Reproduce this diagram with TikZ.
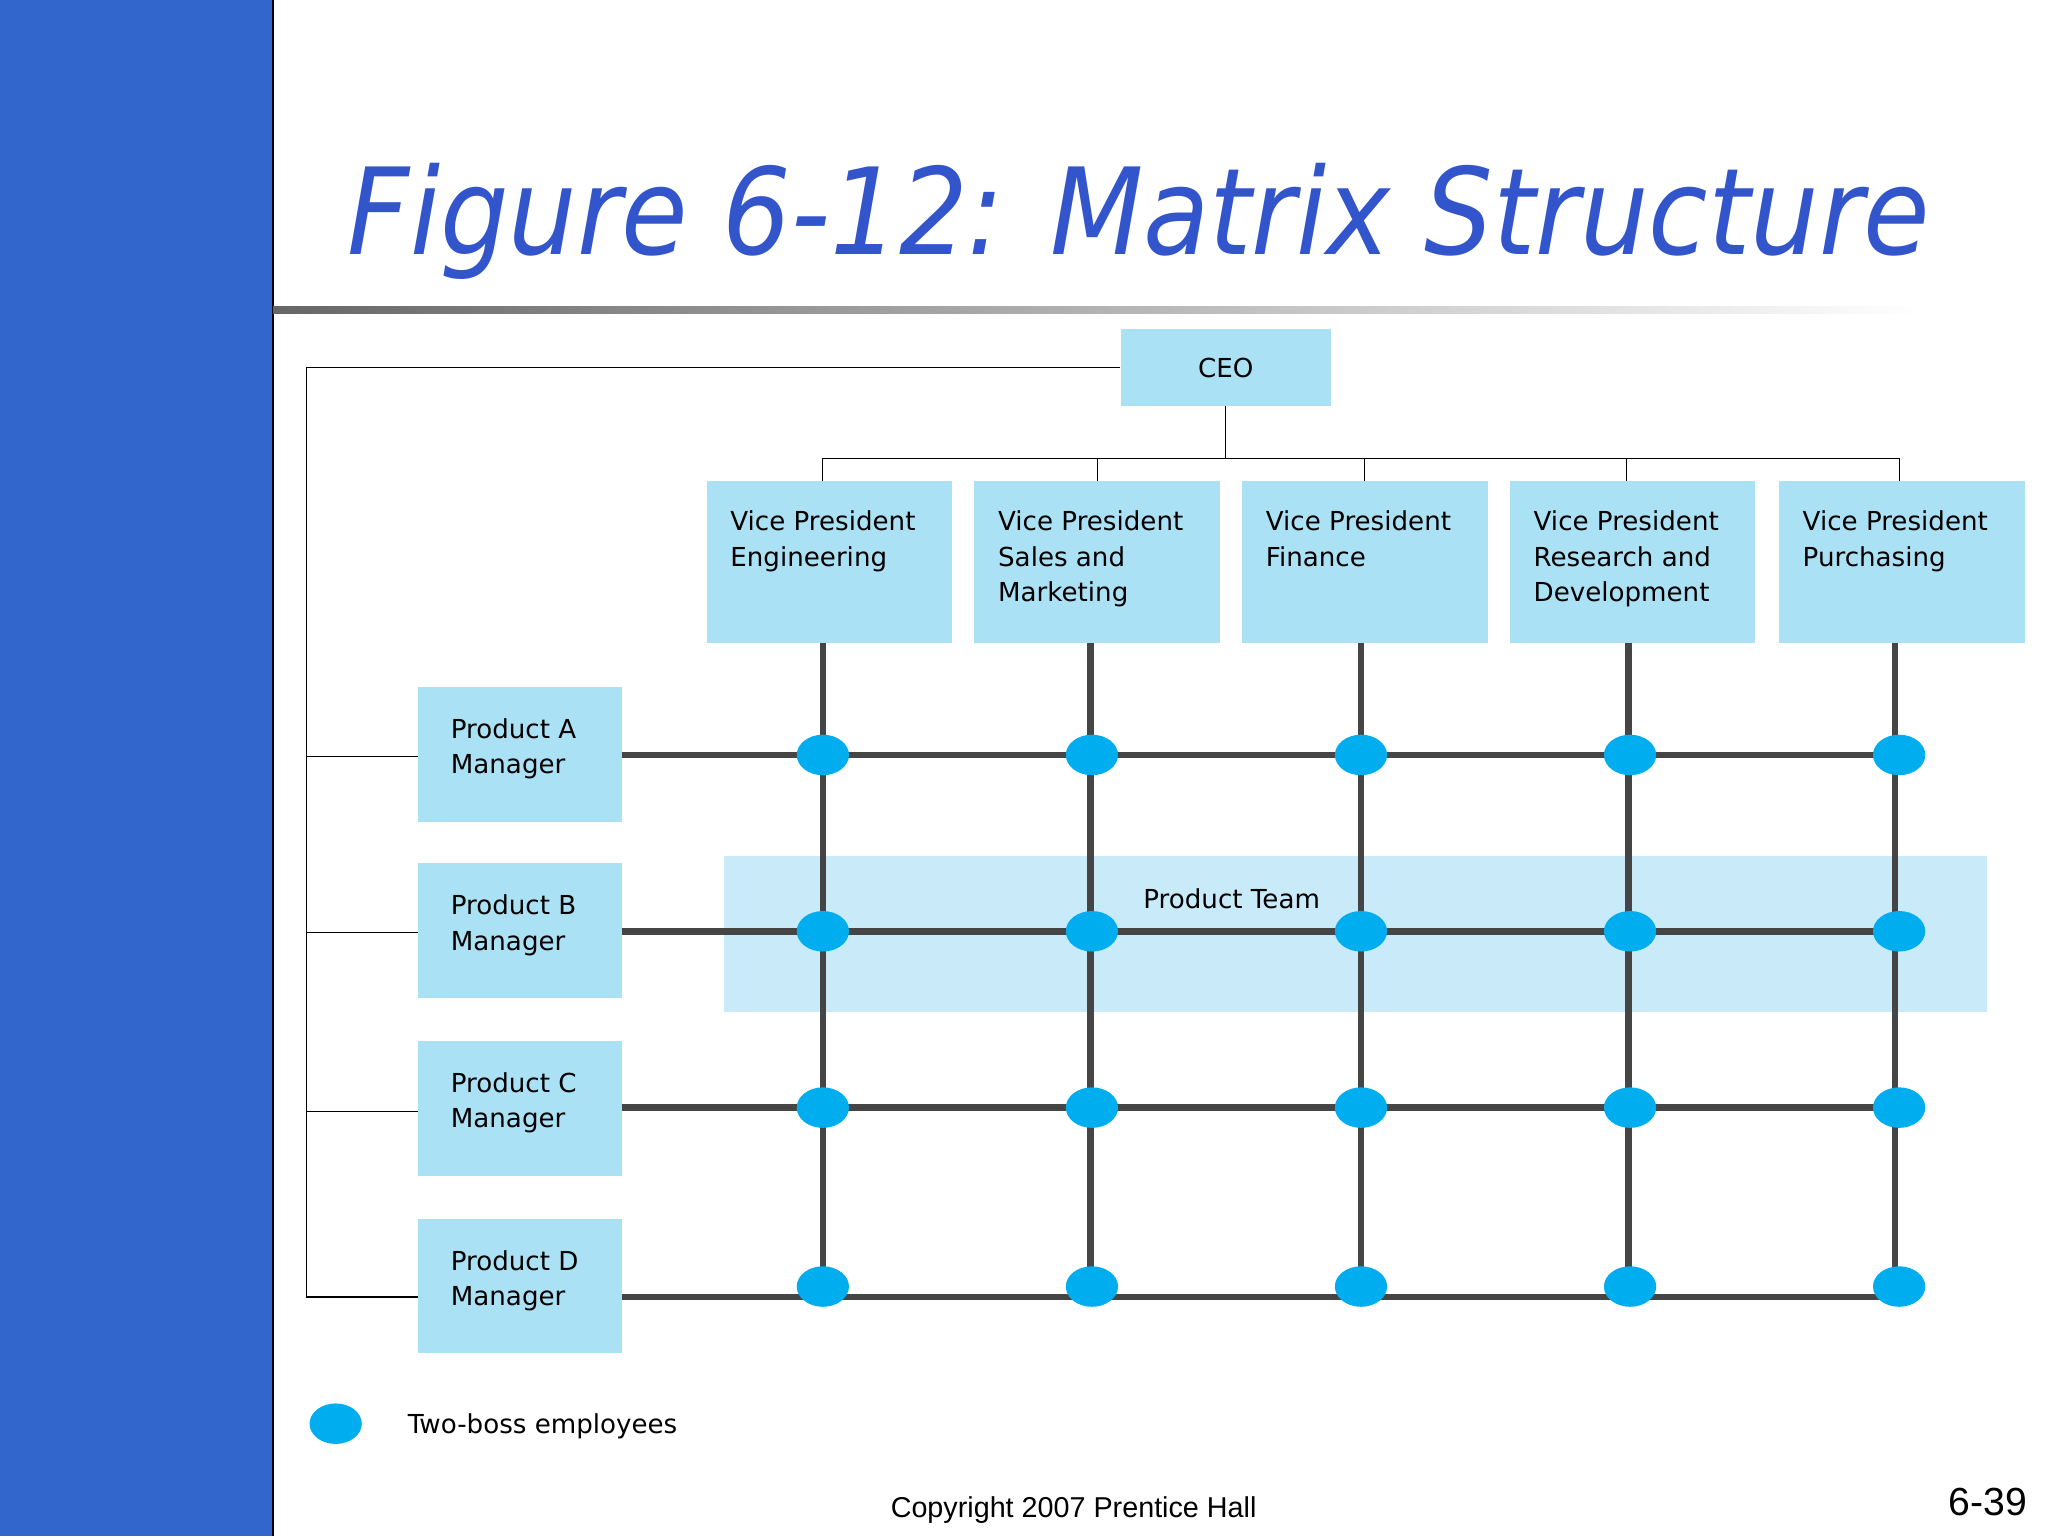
\documentclass[tikz,border=0pt]{standalone}
\usetikzlibrary{shapes.geometric}
\usepackage{fontspec}
\setmainfont{DejaVu Sans}
\newfontfamily\copyfont{Liberation Sans}
\newfontfamily\titfont{DejaVu Sans Condensed}
\begin{document}
\begin{tikzpicture}[x=1pt,y=-1pt,
 box/.style={fill=boxc,draw=none,inner sep=0pt},
 txt/.style={anchor=north west,align=left,font=\fontsize{20}{27}\selectfont,inner sep=0pt},
 thick line/.style={draw=lc,line width=5pt},
 thin/.style={draw=black,line width=0.8pt},
 dot/.style={ellipse,fill=dotc,minimum width=40pt,minimum height=31pt,inner sep=0pt,draw=none}]
\definecolor{boxc}{HTML}{ABE1F5}
\definecolor{teamc}{HTML}{C8EAF9}
\definecolor{lc}{HTML}{454545}
\definecolor{dotc}{HTML}{00AEEF}
\definecolor{barc}{HTML}{3366CC}
\definecolor{titc}{HTML}{3355CC}
\useasboundingbox (0,0) rectangle (1568,1176);
\fill[white] (0,0) rectangle (1568,1176);
\fill[barc] (0,0) rectangle (209,1176);
\draw[black,line width=1pt] (209,0) -- (209,1176);
\node[anchor=base,text=titc,font=\titfont\fontsize{92}{100}\selectfont\itshape,inner sep=0pt] (title) at (872,195) {Figure 6-12: Matrix Structure};
\shade[left color=gray!80!black,right color=white] (209,235) rectangle (1470,240);
% team
\fill[teamc] (554,655) rectangle (1521,775);
\node[font=\fontsize{20}{24}\selectfont,inner sep=0pt] (team) at (943,688) {Product Team};
% CEO
\node[box,minimum width=161pt,minimum height=59pt,font=\fontsize{20}{24}\selectfont] (ceo) at (938.5,281.5) {CEO};
% VP boxes
\foreach \n/\x/\t in {e/541/{Vice President\\Engineering},s/746/{Vice President\\Sales and\\Marketing},f/951/{Vice President\\Finance},r/1156/{Vice President\\Research and\\Development},p/1362/{Vice President\\Purchasing}}{
 \fill[boxc] (\x,368) rectangle ++(188,124);
 \node[txt] (vp\n) at (\x+18,391) {\t};
}
\coordinate (ve) at (630,368); \coordinate (vs) at (840,368); \coordinate (vf) at (1045,368);
\coordinate (vr) at (1245,368); \coordinate (vpp) at (1454,368);
\coordinate (cb) at (938.5,351);
\draw[thin] (ceo.south) -- (cb);
\draw[thin] (630,351) -- (1454,351);
\foreach \c in {ve,vs,vf,vr,vpp} \draw[thin] (\c) -- (\c|-cb);
% product boxes
\foreach \n/\y/\l in {a/526/A,b/661/B,c/797/C,d/933/D}{
 \fill[boxc] (320,\y) rectangle ++(156,103);
 \node[txt] (pm\n) at (345,\y+24) {Product \l\\Manager};
}
\coordinate (corner) at (235,281.5);
\draw[thin] (ceo.west) -- (corner) -- (235,993) -- (320,993);
\foreach \y in {579,714,851} \draw[thin] (235,\y) -- (320,\y);
% thick grid
\foreach \y in {578,713,848,993} \draw[thick line] (476,\y) -- (1454,\y);
\foreach \x in {630,835,1042,1247,1451} \draw[thick line] (\x,492) -- (\x,993);
\foreach \y in {578,713,848,985}
 \foreach \x in {630,836,1042,1248,1454}
  \node[dot] at (\x,\y) {};
% legend
\node[dot] (leg) at (257,1090) {};
\node[anchor=west,font=\fontsize{20}{24}\selectfont,inner sep=0pt] (legt) at (312,1092) {Two-boss employees};
\node[font=\copyfont\fontsize{22}{26}\selectfont,inner sep=0pt] (copy) at (822,1156) {Copyright 2007 Prentice Hall};
\node[font=\copyfont\fontsize{30}{34}\selectfont,inner sep=0pt] (pg) at (1522,1150) {6-39};
\end{tikzpicture}
\end{document}
